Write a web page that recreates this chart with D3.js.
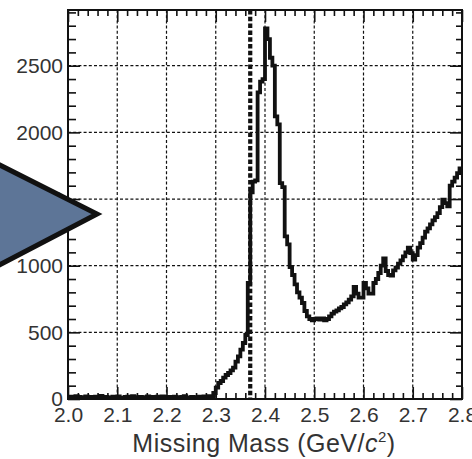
<!DOCTYPE html>
<html>
<head>
<meta charset="utf-8">
<script src="https://cdn.jsdelivr.net/npm/d3@7"></script>
<style>
  html, body { margin: 0; padding: 0; background: #fff; }
  svg { display: block; }
  text { font-family: "Liberation Sans", Arial, sans-serif; fill: #333; }
</style>
</head>
<body>
<svg id="chart" width="472" height="459"></svg>
<script>
// Histogram of missing mass, 0.005 GeV/c^2 bins starting at 2.000
const binStart = 2.0;
const binWidth = 0.005;
const counts = [
  12, 18, 10, 22, 15, 8, 14, 20, 11, 16,
  9, 18, 13, 24, 10, 15, 12, 8, 17, 14,
  20, 11, 9, 15, 18, 12, 22, 10, 14, 16,
  8, 13, 19, 11, 15, 10, 17, 12, 20, 9,
  14, 16, 11, 18, 10, 13, 15, 21, 12, 9,
  16, 14, 11, 18, 13, 20, 15, 22,
  20, 45, 85, 120, 135, 160, 180, 195, 215, 235,
  280, 320, 370, 420, 480, 870, 1550, 1630, 1640, 2300,
  2380, 2400, 2780, 2700, 2560, 2500, 2120, 2060, 1620, 1590,
  1220, 1160, 990, 930, 860, 800, 760, 720, 660, 620,
  600, 590, 600, 605, 595, 605, 590, 600, 620, 640,
  655, 665, 680, 690, 710, 725, 745, 770, 840, 790,
  760, 760, 870, 830, 790, 790, 870, 900, 945, 1000,
  1055, 960, 930, 925, 965, 985, 1015, 1040, 1070, 1100,
  1135, 1095, 1045, 1080, 1135, 1170, 1210, 1255, 1280, 1310,
  1340, 1365, 1395, 1440, 1495, 1470, 1445, 1600, 1630, 1660,
  1695, 1730
];

// Axis ranges and tick labels
const xDomain = [2.0, 2.8];
const yDomain = [0, 2918];
const xMajorTicks = [2.0, 2.1, 2.2, 2.3, 2.4, 2.5, 2.6, 2.7, 2.8];
const xTickLabels = ["2.0", "2.1", "2.2", "2.3", "2.4", "2.5", "2.6", "2.7", "2.8"];
const yMajorTicks = [0, 500, 1000, 1500, 2000, 2500];
const yTickLabels = ["0", "500", "1000", "1500", "2000", "2500"];
const cutMass = 2.37;

const svg = d3.select("#chart");
const plot = { left: 68, right: 462, top: 10, bottom: 399 };

const x = d3.scaleLinear().domain(xDomain).range([plot.left, plot.right]);
const y = d3.scaleLinear().domain(yDomain).range([plot.bottom, plot.top]);

const xMinor = d3.range(0, 41).map(i => 2.0 + i * 0.02).filter(v => !xMajorTicks.some(t => Math.abs(t - v) < 1e-6));
const yMinor = d3.range(0, 30).map(i => i * 100).filter(v => v % 500 !== 0);

svg.append("defs").append("clipPath").attr("id", "plotClip")
  .append("rect")
  .attr("x", plot.left).attr("y", plot.top)
  .attr("width", plot.right - plot.left).attr("height", plot.bottom - plot.top);

// Dotted grid at major ticks
const grid = svg.append("g").attr("stroke", "#111").attr("stroke-width", 1.2)
  .attr("stroke-dasharray", "3,2.2");
grid.selectAll("line.v").data(xMajorTicks.slice(1, -1)).join("line")
  .attr("x1", d => x(d)).attr("x2", d => x(d))
  .attr("y1", plot.top).attr("y2", plot.bottom);
grid.selectAll("line.h").data(yMajorTicks.slice(1)).join("line")
  .attr("x1", plot.left).attr("x2", plot.right)
  .attr("y1", d => y(d)).attr("y2", d => y(d));

// Inward-pointing ticks on all four sides
function styleAxis(g) {
  g.select(".domain").remove();
  g.selectAll(".tick line").attr("stroke", "#111").attr("stroke-width", 1.6);
}
const xFmt = d => xTickLabels[xMajorTicks.findIndex(t => Math.abs(t - d) < 1e-6)];
const yFmt = d => yTickLabels[yMajorTicks.indexOf(d)];

svg.append("g").attr("transform", `translate(0,${plot.bottom})`)
  .call(d3.axisBottom(x).tickValues(xMajorTicks).tickSize(-12).tickPadding(8).tickFormat(xFmt))
  .call(styleAxis)
  .call(g => g.selectAll("text").attr("font-size", 21).attr("fill", "#333").attr("font-family", "Liberation Sans, Arial, sans-serif"));
svg.append("g").attr("transform", `translate(0,${plot.bottom})`)
  .call(d3.axisBottom(x).tickValues(xMinor).tickSize(-6).tickFormat(""))
  .call(styleAxis);
svg.append("g").attr("transform", `translate(0,${plot.top})`)
  .call(d3.axisTop(x).tickValues(xMajorTicks).tickSize(-12).tickFormat(""))
  .call(styleAxis);
svg.append("g").attr("transform", `translate(0,${plot.top})`)
  .call(d3.axisTop(x).tickValues(xMinor).tickSize(-6).tickFormat(""))
  .call(styleAxis);

svg.append("g").attr("transform", `translate(${plot.left},0)`)
  .call(d3.axisLeft(y).tickValues(yMajorTicks).tickSize(-12).tickPadding(5).tickFormat(yFmt))
  .call(styleAxis)
  .call(g => g.selectAll("text").attr("font-size", 21).attr("fill", "#333").attr("font-family", "Liberation Sans, Arial, sans-serif"));
svg.append("g").attr("transform", `translate(${plot.left},0)`)
  .call(d3.axisLeft(y).tickValues(yMinor).tickSize(-8).tickFormat(""))
  .call(styleAxis);
svg.append("g").attr("transform", `translate(${plot.right},0)`)
  .call(d3.axisRight(y).tickValues(yMajorTicks).tickSize(-12).tickFormat(""))
  .call(styleAxis);
svg.append("g").attr("transform", `translate(${plot.right},0)`)
  .call(d3.axisRight(y).tickValues(yMinor).tickSize(-6).tickFormat(""))
  .call(styleAxis);

// Histogram outline (step line)
const steps = counts.map((c, i) => [binStart + i * binWidth, c]);
steps.push([binStart + counts.length * binWidth, counts[counts.length - 1]]);
const line = d3.line().x(d => x(d[0])).y(d => y(d[1])).curve(d3.curveStepAfter);
svg.append("path")
  .datum(steps)
  .attr("clip-path", "url(#plotClip)")
  .attr("fill", "none")
  .attr("stroke", "#111")
  .attr("stroke-width", 3.8)
  .attr("stroke-linejoin", "miter")
  .attr("d", line);

// Cut position
svg.append("line")
  .attr("x1", x(cutMass)).attr("x2", x(cutMass))
  .attr("y1", plot.top).attr("y2", plot.bottom)
  .attr("stroke", "#111").attr("stroke-width", 4.2)
  .attr("stroke-dasharray", "4.5,2.3");

// Frame
svg.append("rect")
  .attr("x", plot.left).attr("y", plot.top)
  .attr("width", plot.right - plot.left).attr("height", plot.bottom - plot.top)
  .attr("fill", "none").attr("stroke", "#111").attr("stroke-width", 2);

// Pointer arrow entering from the left (drawn over the axis)
svg.append("polygon")
  .attr("points", "-20,155 97,214 -20,275")
  .attr("fill", "#5d7597")
  .attr("stroke", "#111")
  .attr("stroke-width", 5)
  .attr("stroke-linejoin", "miter");

// X-axis title
const title = svg.append("text")
  .attr("x", 264).attr("y", 452)
  .attr("text-anchor", "middle")
  .attr("font-size", 25)
  .attr("letter-spacing", 0.5)
  .attr("fill", "#333");
title.append("tspan").text("Missing Mass (GeV/");
title.append("tspan").attr("font-style", "italic").text("c");
title.append("tspan").attr("font-size", 15).attr("dy", -10).text("2");
title.append("tspan").attr("dy", 10).text(")");
</script>
</body>
</html>
